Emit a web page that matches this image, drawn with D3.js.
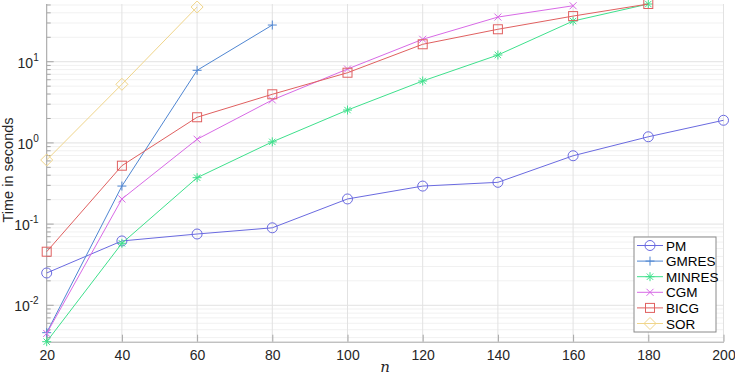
<!DOCTYPE html>
<html lang="en">
<head>
<meta charset="utf-8">
<title>Time in seconds</title>
<script src="https://d3js.org/d3.v7.min.js"></script>
<style>
  body { margin: 0; background: #fff; }
  .tick-label { font-family: "Liberation Sans", Arial, sans-serif; font-size: 14px; fill: #262626; }
  .legend-text { font-family: "Liberation Sans", Arial, sans-serif; font-size: 13.5px; fill: #000; }
</style>
</head>
<body>
<script>
// data
const nValues = [20, 40, 60, 80, 100, 120, 140, 160, 180, 200];
const pm     = [0.025, 0.062, 0.0755, 0.090, 0.204, 0.294, 0.327, 0.695, 1.19, 1.90];
const gmres  = [0.0046, 0.294, 7.84, 28.3];
const minres = [0.00356, 0.058, 0.373, 1.03, 2.54, 5.79, 12.1, 31.7, 51.4];
const cgm    = [0.0045, 0.204, 1.11, 3.38, 8.13, 18.9, 35.5, 48.9];
const bicg   = [0.0457, 0.524, 2.07, 3.97, 7.32, 16.4, 25.1, 36.5, 51.4];
const sor    = [0.616, 5.27, 47.2];

const seriesNames = ["PM", "GMRES", "MINRES", "CGM", "BICG", "SOR"];
const seriesValues = [pm, gmres, minres, cgm, bicg, sor];
const seriesColors = ["#6a6ae0", "#4f86d2", "#3ee08c", "#d86ae6", "#e06060", "#f0d58a"];
const seriesMarkers = ["circle", "plus", "star", "cross", "square", "diamond"];

const xTicks = [20, 40, 60, 80, 100, 120, 140, 160, 180, 200];
const yTickExps = [-2, -1, 0, 1];

const W = 735, H = 377;
const svg = d3.select("body").append("svg")
  .attr("width", W).attr("height", H);

const x = d3.scaleLinear().domain([20, 200]).range([46.7, 723.5]);
const y = d3.scaleLog().domain([0.00356, 51.4]).range([341.7, 4]);

// minor grid
const minorVals = [];
for (let e = -3; e <= 1; e++) {
  for (let k = 2; k <= 9; k++) {
    const v = k * Math.pow(10, e);
    if (v >= y.domain()[0] && v <= y.domain()[1]) minorVals.push(v);
  }
}
svg.append("g").selectAll("line").data(minorVals).join("line")
  .attr("x1", x(20)).attr("x2", x(200))
  .attr("y1", d => y(d)).attr("y2", d => y(d))
  .attr("stroke", "#f1f1f1").attr("stroke-width", 1);

// major grid
svg.append("g").selectAll("line").data(yTickExps).join("line")
  .attr("x1", x(20)).attr("x2", x(200))
  .attr("y1", d => y(Math.pow(10, d))).attr("y2", d => y(Math.pow(10, d)))
  .attr("stroke", "#e2e2e2");
svg.append("g").selectAll("line").data(xTicks).join("line")
  .attr("x1", d => x(d)).attr("x2", d => x(d))
  .attr("y1", y.range()[0]).attr("y2", y.range()[1])
  .attr("stroke", "#e2e2e2");

// axes
const axisColor = "#a6a6a6";
const xAxis = svg.append("g").attr("transform", `translate(0,${y.range()[0]})`)
  .call(d3.axisBottom(x).tickValues(xTicks).tickSizeInner(-7).tickSizeOuter(0).tickPadding(7));
xAxis.select(".domain").attr("stroke", axisColor);
xAxis.selectAll(".tick line").attr("stroke", axisColor);
xAxis.selectAll(".tick text").attr("class", "tick-label").attr("dy", "0.8em");

const yAxisG = svg.append("g").attr("transform", `translate(${x.range()[0]},0)`);
yAxisG.append("line")
  .attr("x1", 0).attr("x2", 0).attr("y1", y.range()[0]).attr("y2", y.range()[1])
  .attr("stroke", axisColor);
yAxisG.selectAll("line.minor").data(minorVals).join("line").attr("class", "minor")
  .attr("x1", 0).attr("x2", 4).attr("y1", d => y(d)).attr("y2", d => y(d))
  .attr("stroke", axisColor);
yAxisG.selectAll("line.major").data(yTickExps).join("line").attr("class", "major")
  .attr("x1", 0).attr("x2", 7).attr("y1", d => y(Math.pow(10, d))).attr("y2", d => y(Math.pow(10, d)))
  .attr("stroke", axisColor);
const yLab = yAxisG.selectAll("text.ylab").data(yTickExps).join("text")
  .attr("class", "tick-label ylab")
  .attr("x", -8).attr("y", d => y(Math.pow(10, d)) + 6)
  .attr("text-anchor", "end");
yLab.append("tspan").text("10");
yLab.append("tspan").attr("dy", -7).attr("font-size", "10px").text(d => d);

// axis titles
svg.append("text")
  .attr("x", x(110)).attr("y", 372)
  .attr("text-anchor", "middle")
  .attr("font-family", "'DejaVu Serif', 'Liberation Serif', serif")
  .attr("font-style", "italic").attr("font-size", "15px").attr("fill", "#262626")
  .text("n");
svg.append("text")
  .attr("transform", `translate(13,170) rotate(-90)`)
  .attr("text-anchor", "middle")
  .attr("class", "tick-label")
  .style("font-size", "14.5px")
  .text("Time in seconds");

// marker drawing
function drawMarker(g, type, color) {
  const s = 4.5;
  if (type === "circle") {
    g.append("circle").attr("r", 5).attr("fill", "none").attr("stroke", color);
  } else if (type === "square") {
    g.append("rect").attr("x", -4.5).attr("y", -4.5).attr("width", 9).attr("height", 9)
      .attr("fill", "none").attr("stroke", color);
  } else if (type === "diamond") {
    g.append("path").attr("d", "M0,-6L6,0L0,6L-6,0Z").attr("fill", "none").attr("stroke", color);
  } else if (type === "plus") {
    g.append("path").attr("d", `M${-s},0H${s}M0,${-s}V${s}`).attr("stroke", color);
  } else if (type === "cross") {
    g.append("path").attr("d", `M-3.5,-3.5L3.5,3.5M-3.5,3.5L3.5,-3.5`).attr("stroke", color);
  } else if (type === "star") {
    g.append("path").attr("d", `M${-s},0H${s}M0,${-s}V${s}M-3.2,-3.2L3.2,3.2M-3.2,3.2L3.2,-3.2`).attr("stroke", color);
  }
}

const line = d3.line().x(d => x(d[0])).y(d => y(d[1]));
seriesValues.forEach((vals, i) => {
  const pts = vals.map((v, j) => [nValues[j], v]);
  const g = svg.append("g");
  g.append("path").attr("d", line(pts)).attr("fill", "none")
    .attr("stroke", seriesColors[i]).attr("stroke-width", 1);
  pts.forEach(p => {
    const m = g.append("g").attr("transform", `translate(${x(p[0])},${y(p[1])})`);
    drawMarker(m, seriesMarkers[i], seriesColors[i]);
  });
});

// legend
const lg = svg.append("g").attr("transform", "translate(634,237)");
lg.append("rect").attr("width", 82).attr("height", 95)
  .attr("fill", "#fff").attr("stroke", "#8a8a8a");
seriesNames.forEach((name, i) => {
  const row = lg.append("g").attr("transform", `translate(0,${8.5 + i * 15.6})`);
  row.append("line").attr("x1", 3).attr("x2", 29).attr("stroke", seriesColors[i]);
  drawMarker(row.append("g").attr("transform", "translate(16,0)"), seriesMarkers[i], seriesColors[i]);
  row.append("text").attr("class", "legend-text").attr("x", 32).attr("y", 5).text(name);
});
</script>
</body>
</html>
